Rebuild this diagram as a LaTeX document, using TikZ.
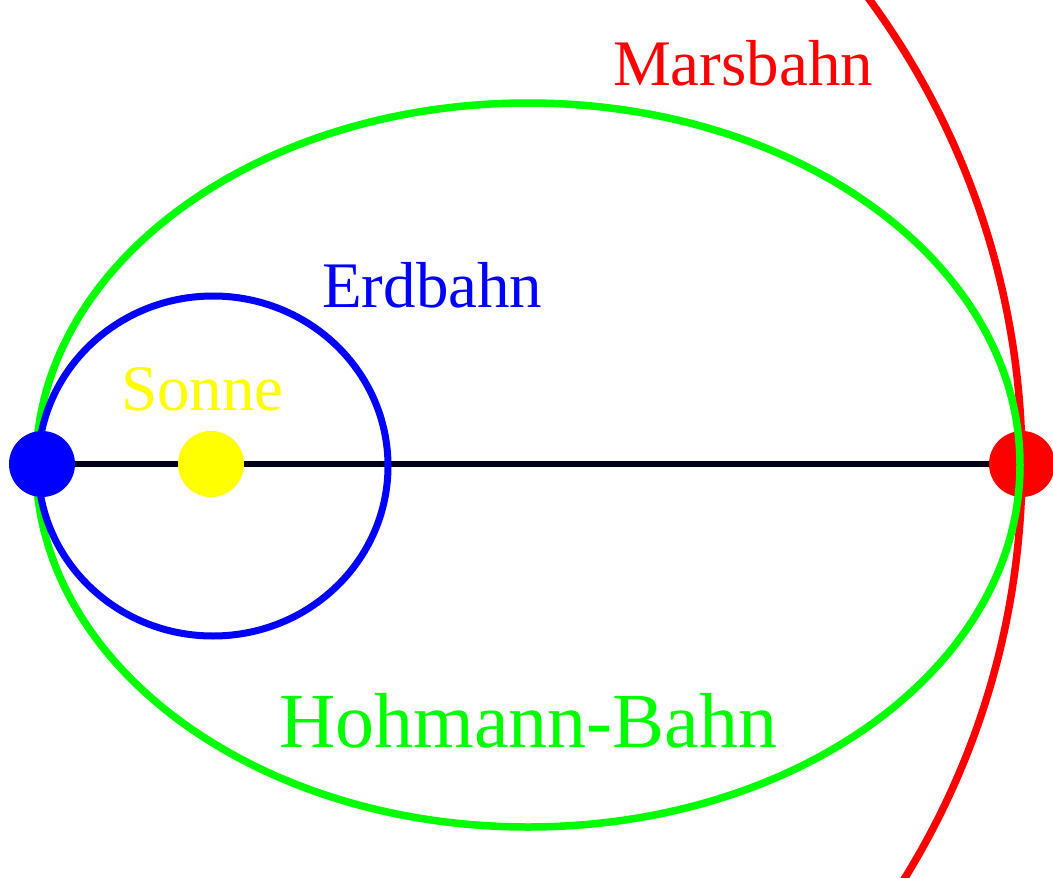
\documentclass[tikz,border=0pt]{standalone}
\usepackage{fontspec}
\setmainfont{Liberation Serif}
\definecolor{pblue}{RGB}{0,0,255}
\definecolor{pgreen}{RGB}{0,255,0}
\definecolor{pred}{RGB}{255,0,0}
\definecolor{pyellow}{RGB}{255,255,0}
\definecolor{pline}{RGB}{0,0,24}
\tikzset{
  body/.style={circle, inner sep=0pt, minimum size=66pt, fill=#1},
  orbit/.style={draw=#1, line width=7.5pt},
  lab/.style={anchor=base west, inner sep=0pt, text=#1},
}
\begin{document}
\begin{tikzpicture}[x=1pt,y=-1pt]
\useasboundingbox (0,0) rectangle (1053,878);
\clip (0,0) rectangle (1053,878);
% axis and bodies
\node[body=pyellow] (sun) at (211,464) {};
\node[body=pred] (mars) at (1022,464) {};
\node[body=pblue, minimum size=0pt] (earthc) at (42,464) {};
\draw[pline, line width=6pt] (earthc.center) -- (sun.west);
\draw[pline, line width=6pt] (sun.east) -- (mars.west);
% Mars orbit
\draw[orbit=pred] (213,465) ++(-45:809 and 796) arc[start angle=-45, end angle=45, x radius=809, y radius=796];
% Hohmann transfer orbit
\draw[orbit=pgreen] (528,465) ellipse[x radius=492, y radius=362];
% Earth orbit
\draw[orbit=pblue, line width=7pt] (213,466) ellipse[x radius=175, y radius=170];
% Earth
\node[body=pblue] (earth) at (42,464) {};
% labels
\node[lab=pred, font=\fontsize{65}{70}\selectfont] (lmars) at (613,85) {Marsbahn};
\node[lab=pblue, font=\fontsize{65}{70}\selectfont] (lerde) at (322,307) {Erdbahn};
\node[lab=pyellow, font=\fontsize{65}{70}\selectfont] (lsonne) at (121,410) {Sonne};
\node[lab=pgreen, font=\fontsize{78}{82}\selectfont] (lhohm) at (279,747) {Hohmann-Bahn};
\end{tikzpicture}
\end{document}
